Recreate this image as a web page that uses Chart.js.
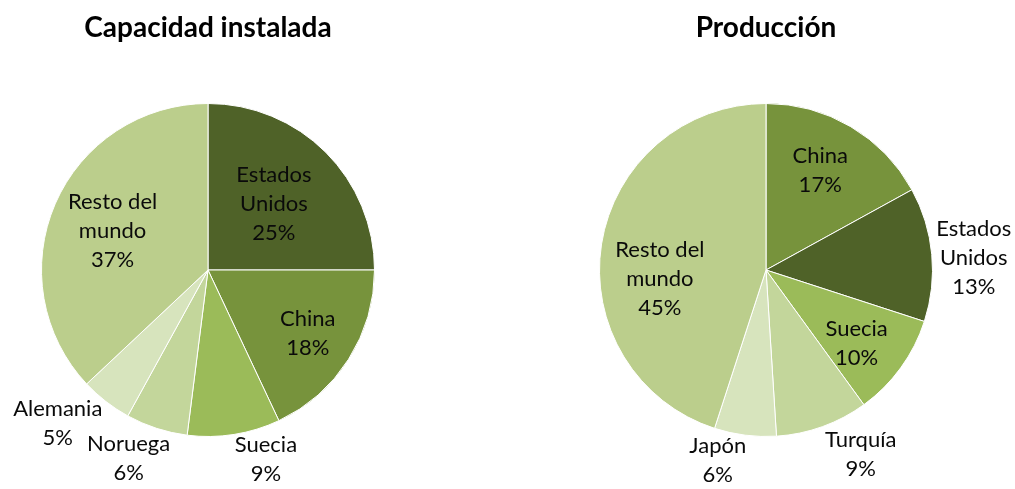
<!DOCTYPE html>
<html>
<head>
<meta charset="utf-8">
<script src="https://cdn.jsdelivr.net/npm/chart.js@4.4.1/dist/chart.umd.min.js"></script>
<style>
  html, body { margin: 0; padding: 0; background: #ffffff; }
  #wrap { position: relative; width: 1015px; height: 489px; }
  #c1 { position: absolute; left: 0; top: 0; }
  #c2 { position: absolute; left: 508px; top: 0; }
</style>
</head>
<body>
<div id="wrap">
  <canvas id="c1" width="508" height="489"></canvas>
  <canvas id="c2" width="507" height="489"></canvas>
</div>
<script>
// ---- Data ----
const capTitle = 'Capacidad instalada';
const capLabels = [['Estados', 'Unidos'], ['China'], ['Suecia'], ['Noruega'], ['Alemania'], ['Resto del', 'mundo']];
const capValues = [25, 18, 9, 6, 5, 37];

const prodTitle = 'Producción';
const prodLabels = [['China'], ['Estados', 'Unidos'], ['Suecia'], ['Turquía'], ['Japón'], ['Resto del', 'mundo']];
const prodValues = [17, 13, 10, 9, 6, 45];

// ---- Style ----
const C_US = '#4f6228', C_CN = '#77933c', C_SE = '#9bbb59', C_L1 = '#c3d69b', C_L2 = '#d7e4bd', C_REST = '#bbce8c';
const capColors = [C_US, C_CN, C_SE, C_L1, C_L2, C_REST];
const prodColors = [C_CN, C_US, C_SE, C_L1, C_L2, C_REST];
// label placement: [radius factor, angle shift in degrees]
const capLabelPos = [[0.56, 0], [0.71, 0], [1.19, -8], [1.23, 4.8], [1.29, 6.6], [0.62, -1]];
const prodLabelPos = [[0.68, -2], [1.25, 2], [0.70, 3], [1.245, -7.4], [1.18, 7], [0.64, -14]];

const FONT = 'Lato, "Open Sans", sans-serif';

const labelPlugin = {
  id: 'sliceLabels',
  afterDatasetsDraw(chart, args, opts) {
    const ctx = chart.ctx;
    const meta = chart.getDatasetMeta(0);
    const ds = chart.data.datasets[0];
    const total = ds.data.reduce((a, b) => a + b, 0);
    ctx.save();
    ctx.font = '22px ' + FONT;
    ctx.fillStyle = '#0a0a0a';
    ctx.textAlign = 'center';
    ctx.textBaseline = 'middle';
    const lh = 29;
    meta.data.forEach((arc, i) => {
      const p = arc.getProps(['x', 'y', 'startAngle', 'endAngle', 'outerRadius'], true);
      const [f, dA] = opts.pos[i];
      const a = (p.startAngle + p.endAngle) / 2 + dA * Math.PI / 180;
      const cx = p.x + Math.cos(a) * p.outerRadius * f;
      const cy = p.y + Math.sin(a) * p.outerRadius * f;
      const lines = chart.data.labels[i].concat([Math.round(ds.data[i] / total * 100) + '%']);
      const y0 = cy - (lines.length - 1) * lh / 2;
      lines.forEach((t, k) => ctx.fillText(t, cx, y0 + k * lh));
    });
    ctx.restore();
  }
};

function makePie(id, title, labels, values, colors, pos, padL, padR) {
  return new Chart(document.getElementById(id), {
    type: 'pie',
    data: {
      labels: labels,
      datasets: [{ data: values, backgroundColor: colors, borderColor: '#ffffff', borderWidth: 1 }]
    },
    options: {
      responsive: false,
      animation: false,
      layout: { padding: { left: padL, right: padR, top: 11, bottom: 52 } },
      plugins: {
        legend: { display: false },
        tooltip: { enabled: false },
        title: {
          display: true,
          text: title,
          color: '#000000',
          font: { family: FONT, size: 28, weight: 'bold', lineHeight: 1.2 },
          padding: { top: 0, bottom: 58.4 }
        },
        sliceLabels: { pos: pos }
      }
    },
    plugins: [labelPlugin]
  });
}

makePie('c1', capTitle, capLabels, capValues, capColors, capLabelPos, 41, 133);
makePie('c2', prodTitle, prodLabels, prodValues, prodColors, prodLabelPos, 91, 82);
</script>
</body>
</html>
